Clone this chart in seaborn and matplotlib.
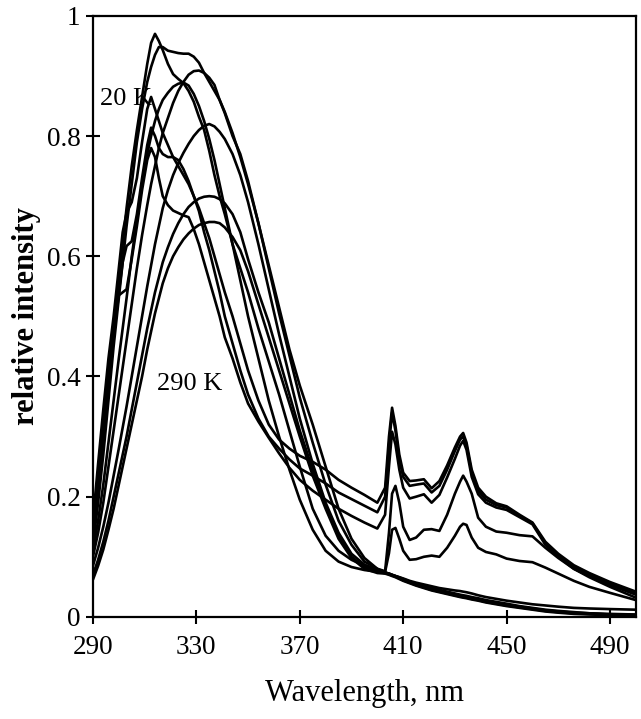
import matplotlib
matplotlib.use("Agg")
import matplotlib.pyplot as plt
import seaborn as sns
import pandas as pd

# wavelength grid, nm
wl = [290, 292, 294, 296, 298, 300, 301.5, 303,
      305, 307, 309, 311, 312.5, 314, 315.5, 317, 319, 321,
      323, 325, 327, 329, 331, 333, 335, 337, 339, 341,
      344, 347, 350, 354, 358, 362, 366, 370, 375, 380,
      385, 390, 395, 400,
      403, 404.5, 405.7, 407, 408.5, 410, 412.5, 415, 418, 421,
      424, 427, 430, 432, 433.2, 434.5, 436.5, 439, 442, 446,
      450, 455, 460, 465, 470, 476, 482, 490, 500]

# relative intensity of each spectrum
k20 = [.160, .255, .345, .43, .50, .58, .64, .672,
       .69, .73, .79, .845, .865, .845, .825, .805, .785, .765,
       .75, .735, .72, .70, .68, .655, .63, .60, .57, .54,
       .50, .455, .41, .36, .32, .295, .28, .268, .258, .245,
       .228, .215, .203, .19,
       .215, .30, .348, .318, .27, .24, .226, .227, .229, .214,
       .226, .252, .282, .30, .306, .29, .245, .215, .20, .189,
       .184, .17, .157, .125, .105, .086, .073, .058, .042]

t2 = [.15, .24, .33, .41, .48, .54, .59, .617,
      .625, .67, .73, .785, .814, .80, .78, .77, .765, .765,
      .76, .745, .725, .70, .675, .64, .61, .575, .54, .50,
      .455, .41, .37, .33, .30, .28, .262, .247, .235, .222,
      .207, .196, .185, .174,
      .20, .285, .34, .31, .262, .233, .218, .22, .222, .207,
      .218, .245, .276, .295, .30, .285, .24, .21, .195, .186,
      .182, .168, .156, .122, .102, .083, .07, .055, .04]

t3 = [.14, .23, .32, .40, .47, .535, .54, .545,
      .595, .65, .71, .76, .78, .765, .73, .70, .685, .676,
      .672, .668, .665, .645, .62, .59, .56, .53, .50, .465,
      .43, .39, .355, .325, .298, .272, .248, .228, .21, .195,
      .18, .168, .157, .147,
      .17, .25, .308, .287, .245, .215, .197, .2, .204, .19,
      .203, .232, .263, .285, .293, .278, .233, .204, .19, .182,
      .178, .166, .154, .12, .10, .08, .068, .053, .037]

t4 = [.13, .21, .30, .39, .48, .56, .62, .68,
      .75, .81, .865, .92, .955, .97, .958, .943, .92, .903,
      .895, .888, .875, .857, .832, .81, .775, .735, .70, .67,
      .62, .58, .54, .48, .425, .37, .31, .25, .18, .135,
      .11, .095, .085, .078,
      .075, .106, .145, .148, .13, .11, .095, .096, .10, .102,
      .10, .115, .135, .15, .155, .153, .132, .115, .108, .104,
      .097, .093, .091, .082, .072, .06, .05, .04, .028]

t5 = [.12, .19, .27, .36, .45, .53, .59, .65,
      .72, .79, .845, .89, .915, .935, .948, .948, .942, .94,
      .938, .937, .937, .932, .922, .905, .89, .875, .86, .84,
      .805, .765, .72, .655, .585, .515, .445, .385, .32, .25,
      .18, .13, .098, .08,
      .076, .14, .205, .218, .19, .15, .128, .132, .145, .146,
      .143, .17, .205, .225, .235, .225, .205, .165, .15, .142,
      .14, .136, .134, .115, .098, .08, .066, .05, .032]

t6 = [.11, .16, .22, .29, .36, .43, .48, .53,
      .60, .66, .72, .77, .80, .825, .845, .86, .872, .882,
      .887, .889, .884, .87, .85, .825, .795, .76, .72, .68,
      .62, .56, .50, .43, .36, .30, .245, .195, .145, .11,
      .092, .083, .078, .075,
      .073, .072, .07, .068, .066, .063, .059, .055, .051, .048,
      .045, .042, .039, .037, .036, .035, .033, .031, .028, .025,
      .022, .018, .015, .012, .01, .008, .006, .005, .004]

t7 = [.10, .14, .19, .25, .31, .37, .415, .46,
      .52, .58, .635, .685, .72, .75, .78, .805, .83, .855,
      .875, .89, .902, .908, .909, .905, .897, .885, .86, .838,
      .80, .77, .725, .655, .58, .505, .435, .365, .29, .22,
      .16, .12, .092, .08,
      .074, .072, .07, .068, .066, .064, .06, .057, .054, .051,
      .048, .046, .044, .043, .042, .041, .039, .036, .033, .03,
      .027, .024, .021, .019, .017, .015, .014, .013, .012]

t8 = [.085, .115, .15, .19, .235, .28, .315, .35,
      .40, .45, .50, .55, .585, .62, .65, .68, .71, .735,
      .755, .772, .787, .80, .81, .817, .82, .816, .807, .795,
      .77, .735, .69, .62, .545, .47, .40, .33, .255, .19,
      .14, .105, .087, .078,
      .074, .072, .07, .068, .065, .062, .058, .054, .05, .046,
      .043, .04, .037, .035, .034, .033, .031, .029, .026, .023,
      .02, .017, .014, .011, .009, .007, .006, .004, .003]

t9 = [.07, .095, .125, .16, .20, .24, .27, .30,
      .345, .39, .435, .48, .51, .54, .565, .59, .615, .637,
      .655, .67, .682, .69, .696, .699, .70, .699, .695, .688,
      .67, .64, .595, .54, .49, .43, .37, .31, .245, .185,
      .135, .10, .083, .075,
      .073, .071, .069, .067, .064, .061, .057, .053, .049, .045,
      .042, .039, .036, .034, .033, .032, .03, .028, .025, .022,
      .019, .016, .013, .01, .008, .006, .005, .004, .003]

k290 = [.062, .085, .112, .145, .18, .22, .25, .28,
        .32, .36, .40, .445, .475, .505, .53, .555, .58, .60,
        .615, .628, .638, .646, .652, .655, .657, .657, .655, .648,
        .632, .61, .575, .52, .465, .41, .355, .30, .235, .18,
        .13, .098, .08, .073,
        .072, .07, .068, .066, .063, .06, .056, .052, .048, .044,
        .041, .038, .035, .033, .032, .031, .029, .027, .024, .021,
        .018, .015, .012, .009, .007, .005, .004, .003, .002]

spectra = {"20 K": k20, "s2": t2, "s3": t3, "s4": t4, "s5": t5,
           "s6": t6, "s7": t7, "s8": t8, "s9": t9, "290 K": k290}

df = pd.concat([pd.DataFrame({"wl": wl, "intensity": v, "curve": name})
                for name, v in spectra.items()], ignore_index=True)

sns.set_style("ticks")
plt.rcParams["font.family"] = ["Liberation Serif", "DejaVu Serif"]
plt.rcParams.update({"text.color": "black", "axes.labelcolor": "black",
                     "xtick.color": "black", "ytick.color": "black"})

fig = plt.figure(figsize=(6.41, 7.19), dpi=100)
ax = fig.add_axes([0.145, 0.142, 0.847, 0.836])

sns.lineplot(data=df, x="wl", y="intensity", units="curve", estimator=None,
             color="black", linewidth=1.9, sort=False, ax=ax, legend=False)

ax.set_xlim(290, 500)
ax.set_ylim(0, 1)
ax.set_xticks([290, 330, 370, 410, 450, 490])
ax.set_yticks([0, 0.2, 0.4, 0.6, 0.8, 1])
ax.set_yticklabels(["0", "0.2", "0.4", "0.6", "0.8", "1"])
ax.tick_params(direction="inout", length=10, width=1.5, labelsize=19.5,
               colors="black")
ax.tick_params(axis="y", pad=4)
ax.tick_params(axis="x", pad=8)
for s in ax.spines.values():
    s.set_linewidth(1.6)
    s.set_color("black")

ax.set_xlabel("Wavelength, nm", fontsize=22, labelpad=14, color="black")
ax.set_ylabel("relative intensity", fontsize=22, fontweight="bold",
              labelpad=4, color="black")

ax.text(292.6, 0.862, "20 K", fontsize=19, va="center", ha="left", color="black")
ax.text(314.8, 0.387, "290 K", fontsize=19, va="center", ha="left", color="black")

fig.savefig("out.png", dpi=100)
